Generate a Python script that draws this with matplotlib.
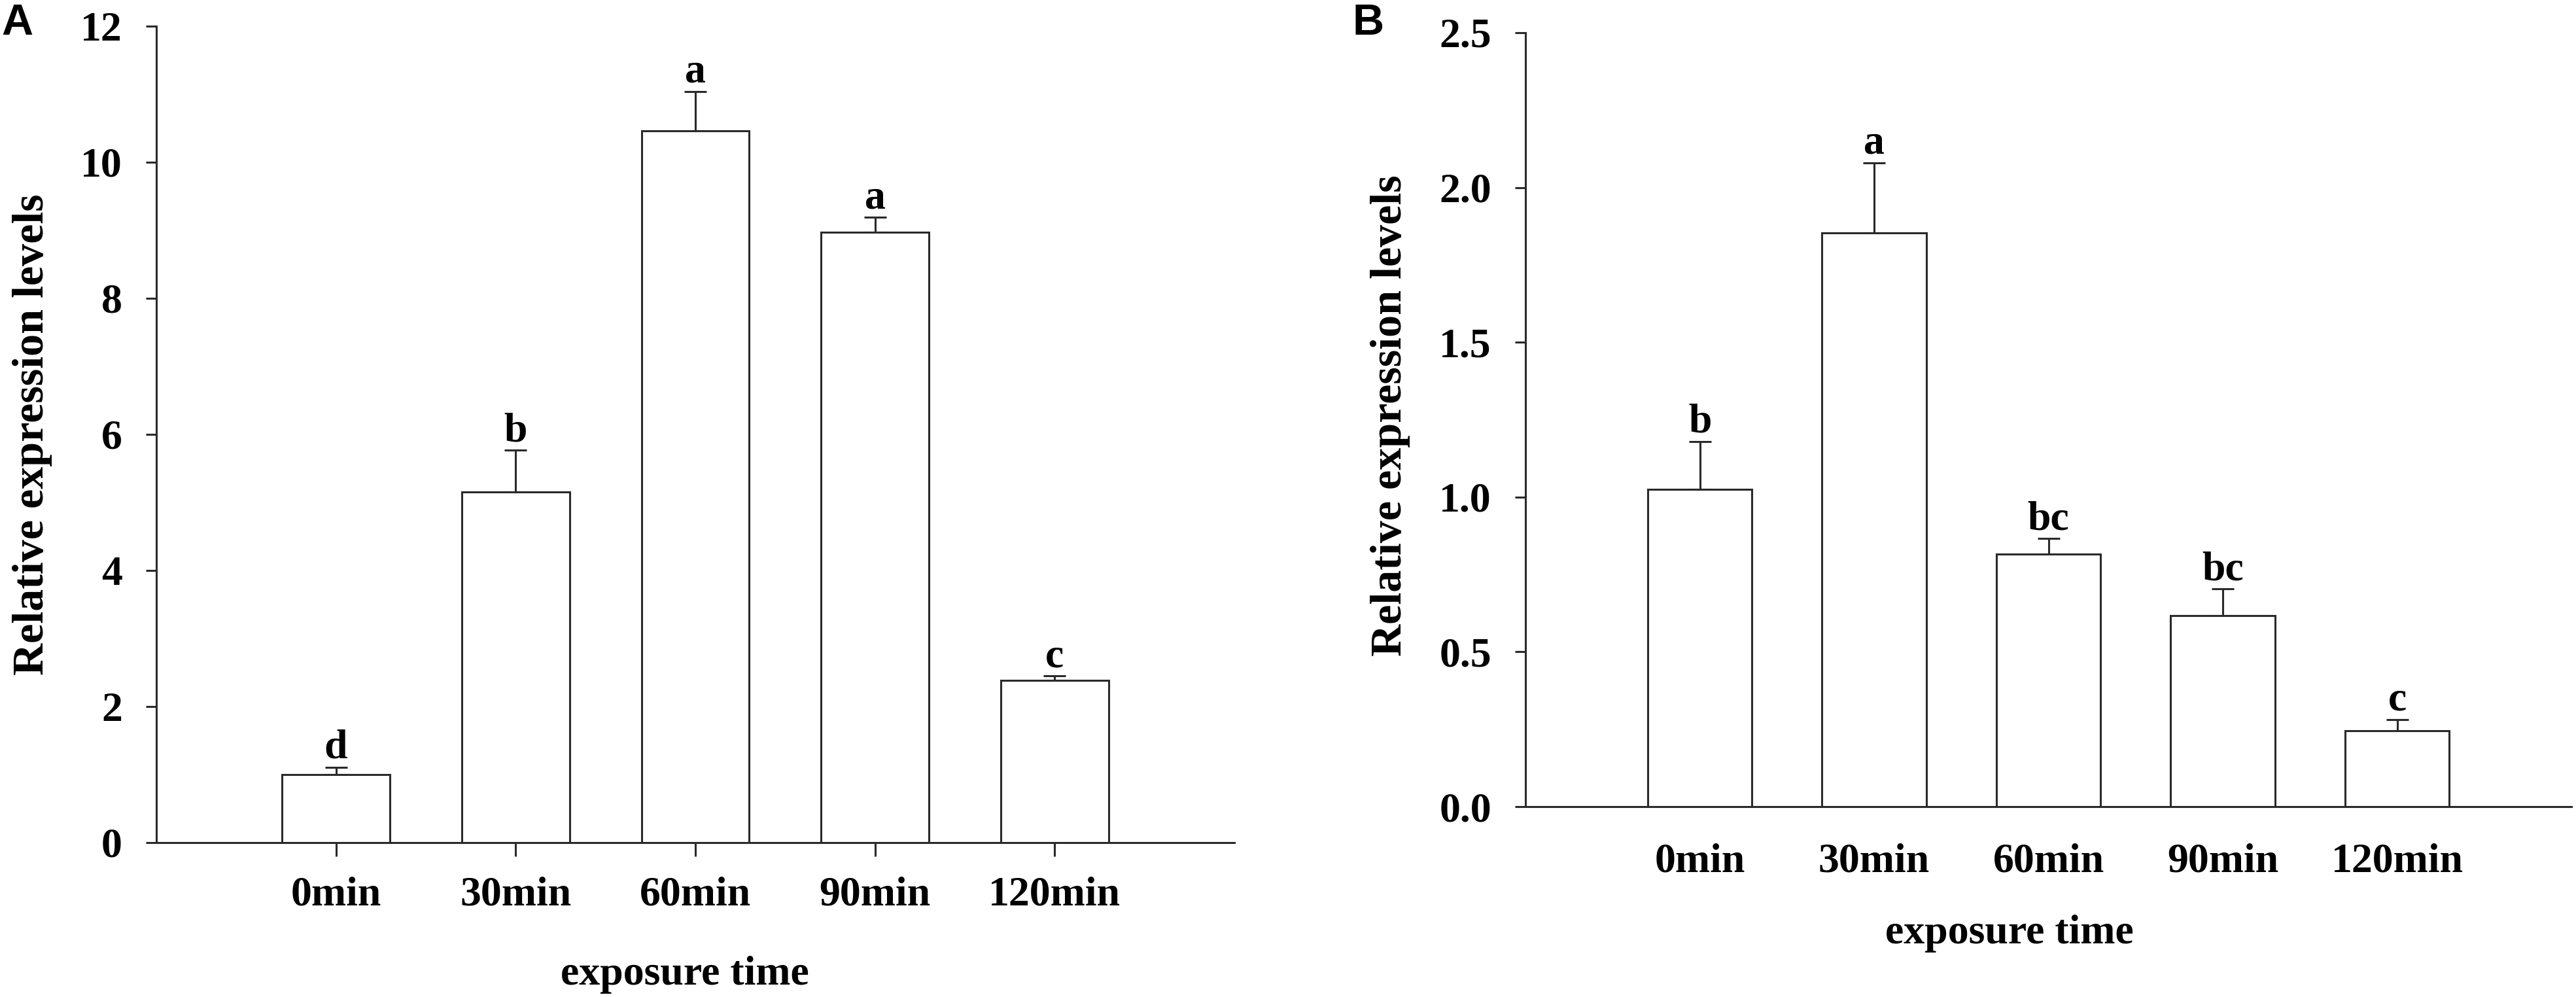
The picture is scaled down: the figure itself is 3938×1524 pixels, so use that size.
import matplotlib
matplotlib.use("Agg")
import matplotlib.pyplot as plt
import numpy as np

plt.rcParams['font.family'] = ['Liberation Serif', 'DejaVu Serif']
plt.rcParams['font.weight'] = 'bold'

categories = ["0min", "30min", "60min", "90min", "120min"]

means_a = [1.00, 5.15, 10.46, 8.97, 2.38]
errs_a = [0.11, 0.62, 0.58, 0.22, 0.07]
letters_a = ["d", "b", "a", "a", "c"]
yticks_a = [0, 2, 4, 6, 8, 10, 12]
yticklabels_a = ["0", "2", "4", "6", "8", "10", "12"]

means_b = [1.025, 1.853, 0.816, 0.617, 0.246]
errs_b = [0.155, 0.227, 0.050, 0.086, 0.036]
letters_b = ["b", "a", "bc", "bc", "c"]
yticks_b = [0.0, 0.5, 1.0, 1.5, 2.0, 2.5]
yticklabels_b = ["0.0", "0.5", "1.0", "1.5", "2.0", "2.5"]

xlabel = "exposure time"
ylabel = "Relative expression levels"

W, H = 3938, 1524
DPI = 100
fig = plt.figure(figsize=(W / DPI, H / DPI), dpi=DPI)

LINE = '#2a2a2a'
LW = 2.2
FS = 46


def panel(rect, means, errs, letters, yticks, yticklabels, ylim, xticks_visible,
          tickpad, xl_coords, yl_coords, letter_off):
    ax = fig.add_axes(rect)
    x = np.arange(len(categories))
    ax.bar(x, means, width=0.6, color='white', edgecolor=LINE, linewidth=LW, zorder=3)
    ax.errorbar(x, means, yerr=[np.zeros(len(errs)), errs], fmt='none',
                ecolor=LINE, elinewidth=LW, capsize=12, capthick=LW, zorder=2)
    for xi, m, e, lab in zip(x, means, errs, letters):
        ax.annotate(lab, xy=(xi, m + e), xytext=(0, letter_off), textcoords='offset points',
                    ha='center', va='baseline', fontsize=FS, fontweight='bold', color='black')
    ax.set_xlim(-1, 5)
    ax.set_ylim(*ylim)
    ax.set_yticks(yticks)
    ax.set_yticklabels(yticklabels)
    ax.set_xticks(x)
    ax.set_xticklabels(categories)
    for s in ['top', 'right']:
        ax.spines[s].set_visible(False)
    for s in ['left', 'bottom']:
        ax.spines[s].set_color(LINE)
        ax.spines[s].set_linewidth(LW)
    ax.tick_params(axis='y', direction='out', length=11.5, width=LW, color=LINE,
                   pad=26, labelsize=FS)
    if xticks_visible:
        ax.tick_params(axis='x', direction='out', length=15, width=LW, color=LINE,
                       pad=tickpad, labelsize=FS)
    else:
        ax.tick_params(axis='x', length=0, pad=tickpad, labelsize=FS)
    for t in ax.get_xticklabels() + ax.get_yticklabels():
        t.set_fontweight('bold')
    ax.set_xlabel(xlabel, fontsize=FS, fontweight='bold', va='center')
    ax.xaxis.set_label_coords(*xl_coords)
    ax.set_ylabel(ylabel, fontsize=49, fontweight='bold', va='center')
    ax.yaxis.set_label_coords(*yl_coords)
    ax.set_facecolor('none')
    return ax


panel([239 / W, 1 - 1288 / H, 1648 / W, 1248 / H], means_a, errs_a, letters_a,
      yticks_a, yticklabels_a, (0, 12), True, 22,
      (0.490, -0.162), (-0.1147, 0.5), 10)
panel([2332 / W, 1 - 1233 / H, 1599 / W, 1183 / H], means_b, errs_b, letters_b,
      yticks_b, yticklabels_b, (0, 2.5), False, 40,
      (0.463, -0.164), (-0.129, 0.505), 10)

fig.text(2 / W, 1 - 53 / H, "A", fontsize=48, fontweight='bold',
         family=['Liberation Sans', 'DejaVu Sans'], ha='left', va='baseline')
fig.text(2067 / W, 1 - 53 / H, "B", fontsize=48, fontweight='bold',
         family=['Liberation Sans', 'DejaVu Sans'], ha='left', va='baseline')

fig.savefig("out.png", dpi=DPI, facecolor='white')
